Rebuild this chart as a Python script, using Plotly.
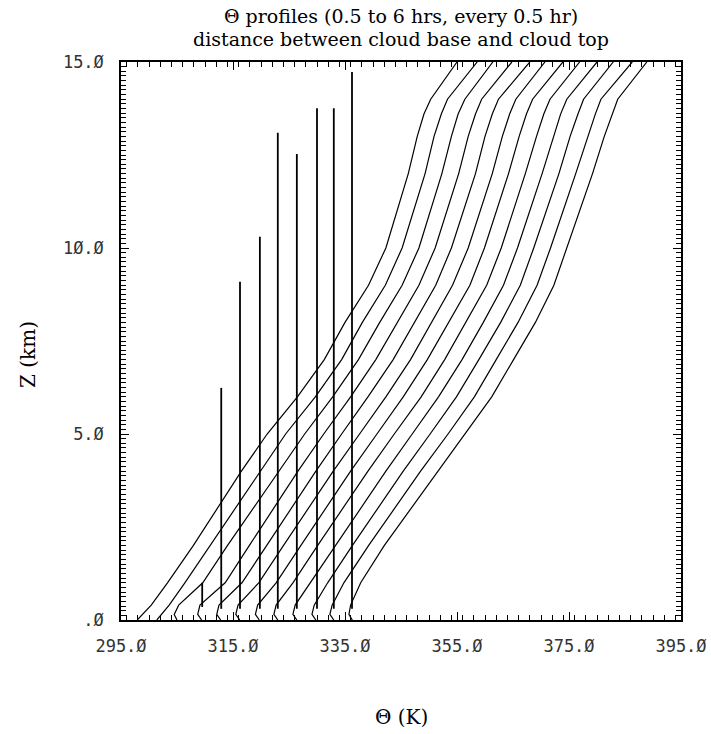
import plotly.graph_objects as go

# Heights (km) at which the profiles were read
z_km = [0, 0.15, 0.4, 1, 2, 4, 5, 6, 7, 8, 9, 10, 12, 13, 13.6, 14, 15]

# Potential temperature profiles (K), 0.5 to 6 hrs every 0.5 hr
th_0p5 = [297.9, 298.8, 300.4, 303.3, 307.9, 316.5, 321.1, 326.5, 331.3, 335.0, 339.2, 342.3, 346.3, 347.9, 349.1, 350.3, 355.0]
th_1p0 = [301.4, 302.2, 303.6, 306.4, 310.9, 319.8, 324.4, 329.7, 334.4, 338.1, 342.2, 345.2, 349.3, 350.9, 352.2, 353.3, 358.6]
th_1p5 = [305.0, 304.5, 305.3, 309.6, 314.0, 323.2, 327.8, 332.8, 337.4, 341.2, 345.2, 348.2, 352.3, 354.0, 355.2, 356.4, 361.4]
th_2p0 = [309.4, 308.7, 309.1, 313.6, 317.9, 326.6, 331.2, 336.0, 340.5, 344.3, 348.2, 351.1, 355.3, 357.0, 358.3, 359.4, 364.8]
th_2p5 = [312.8, 312.1, 312.5, 316.6, 321.0, 329.8, 334.4, 339.1, 343.6, 347.4, 351.2, 354.0, 358.3, 360.0, 361.3, 362.4, 368.0]
th_3p0 = [316.2, 315.5, 315.9, 319.6, 324.0, 332.9, 337.6, 342.3, 346.7, 350.5, 354.2, 357.0, 361.3, 363.1, 364.4, 365.5, 370.7]
th_3p5 = [319.7, 319.0, 319.4, 322.7, 327.1, 336.0, 340.7, 345.4, 349.7, 353.5, 357.3, 359.9, 364.2, 366.1, 367.4, 368.5, 373.9]
th_4p0 = [323.0, 322.3, 322.7, 325.7, 330.1, 339.1, 343.8, 348.6, 352.8, 356.6, 360.3, 362.9, 367.2, 369.2, 370.5, 371.6, 376.9]
th_4p5 = [326.4, 325.7, 326.1, 328.8, 333.2, 342.3, 347.0, 351.7, 355.9, 359.7, 363.3, 365.8, 370.2, 372.2, 373.5, 374.6, 380.0]
th_5p0 = [329.8, 329.1, 329.5, 331.9, 336.3, 345.4, 350.2, 354.9, 358.9, 362.8, 366.3, 368.7, 373.2, 375.2, 376.6, 377.6, 382.9]
th_5p5 = [333.0, 332.3, 332.7, 334.8, 339.2, 348.5, 353.4, 358.1, 362.0, 365.9, 369.3, 371.7, 376.2, 378.3, 379.7, 380.7, 386.3]
th_6p0 = [336.3, 335.7, 336.0, 337.8, 342.0, 351.6, 356.5, 361.2, 365.1, 369.0, 372.3, 374.6, 379.2, 381.3, 382.7, 383.7, 388.9]

# Cloud base / top bars (K, km)
cloud_theta = [309.5, 312.9, 316.25, 319.8, 323.0, 326.4, 330.0, 333.0, 336.25]
cloud_base = [0.35, 0.3, 0.3, 0.3, 0.3, 0.3, 0.3, 0.3, 0.3]
cloud_top = [1.0, 6.24, 9.09, 10.3, 13.1, 12.53, 13.76, 13.76, 14.73]

# Axis ticks
x_tickvals = [295, 315, 335, 355, 375, 395]
x_ticktext = ["295.Ø", "315.Ø", "335.Ø", "355.Ø", "375.Ø", "395.Ø"]
y_tickvals = [0, 5, 10, 15]
y_ticktext = [".Ø", "5.Ø", "1Ø.Ø", "15.Ø"]

profiles = [th_0p5, th_1p0, th_1p5, th_2p0, th_2p5, th_3p0,
            th_3p5, th_4p0, th_4p5, th_5p0, th_5p5, th_6p0]

fig = go.Figure()
for th in profiles:
    fig.add_trace(go.Scatter(x=th, y=z_km, mode="lines",
                             line=dict(color="black", width=1.2),
                             showlegend=False, hoverinfo="skip"))
for xt, zb, zt in zip(cloud_theta, cloud_base, cloud_top):
    fig.add_trace(go.Scatter(x=[xt, xt], y=[zb, zt], mode="lines",
                             line=dict(color="black", width=1.8),
                             showlegend=False, hoverinfo="skip"))

tickfont = dict(family="DejaVu Sans Mono", size=17, color="#333")
fig.update_layout(
    width=711, height=734,
    margin=dict(l=121, r=30, t=62, b=114, autoexpand=False),
    paper_bgcolor="white", plot_bgcolor="white",
    xaxis=dict(range=[295, 395], tickvals=x_tickvals, ticktext=x_ticktext,
               automargin=False,
               ticks="inside", ticklen=8, tickwidth=1.2, tickcolor="black",
               showline=True, linecolor="black", linewidth=1.5,
               mirror="allticks", showgrid=False, zeroline=False,
               tickfont=tickfont, ticklabelstandoff=10,
               minor=dict(dtick=2, ticklen=5, ticks="inside",
                          tickcolor="black", tickwidth=1, showgrid=False)),
    yaxis=dict(range=[0, 15], tickvals=y_tickvals, ticktext=y_ticktext,
               automargin=False,
               ticks="inside", ticklen=8, tickwidth=1.2, tickcolor="black",
               showline=True, linecolor="black", linewidth=1.5,
               mirror="allticks", showgrid=False, zeroline=False,
               tickfont=tickfont, ticklabelstandoff=12,
               minor=dict(dtick=0.125, ticklen=5, ticks="inside",
                          tickcolor="black", tickwidth=1, showgrid=False)),
    annotations=[
        dict(text="Θ profiles (0.5 to 6 hrs, every 0.5 hr)", xref="paper", yref="paper",
             x=0.5, y=1.0, yshift=46, showarrow=False, xanchor="center", yanchor="middle",
             font=dict(family="DejaVu Serif", size=19, color="black")),
        dict(text="distance between cloud base and cloud top", xref="paper", yref="paper",
             x=0.5, y=1.0, yshift=23, showarrow=False, xanchor="center", yanchor="middle",
             font=dict(family="DejaVu Serif", size=19, color="black")),
        dict(text="Θ (K)", xref="paper", yref="paper",
             x=0.5, y=0, yshift=-97, showarrow=False, xanchor="center", yanchor="middle",
             font=dict(family="DejaVu Serif", size=20, color="black")),
        dict(text="Z (km)", xref="paper", yref="paper", textangle=-90,
             x=0, y=0.475, xshift=-93, showarrow=False, xanchor="center", yanchor="middle",
             font=dict(family="DejaVu Serif", size=20, color="black")),
    ],
)

fig.write_html("out.html")
